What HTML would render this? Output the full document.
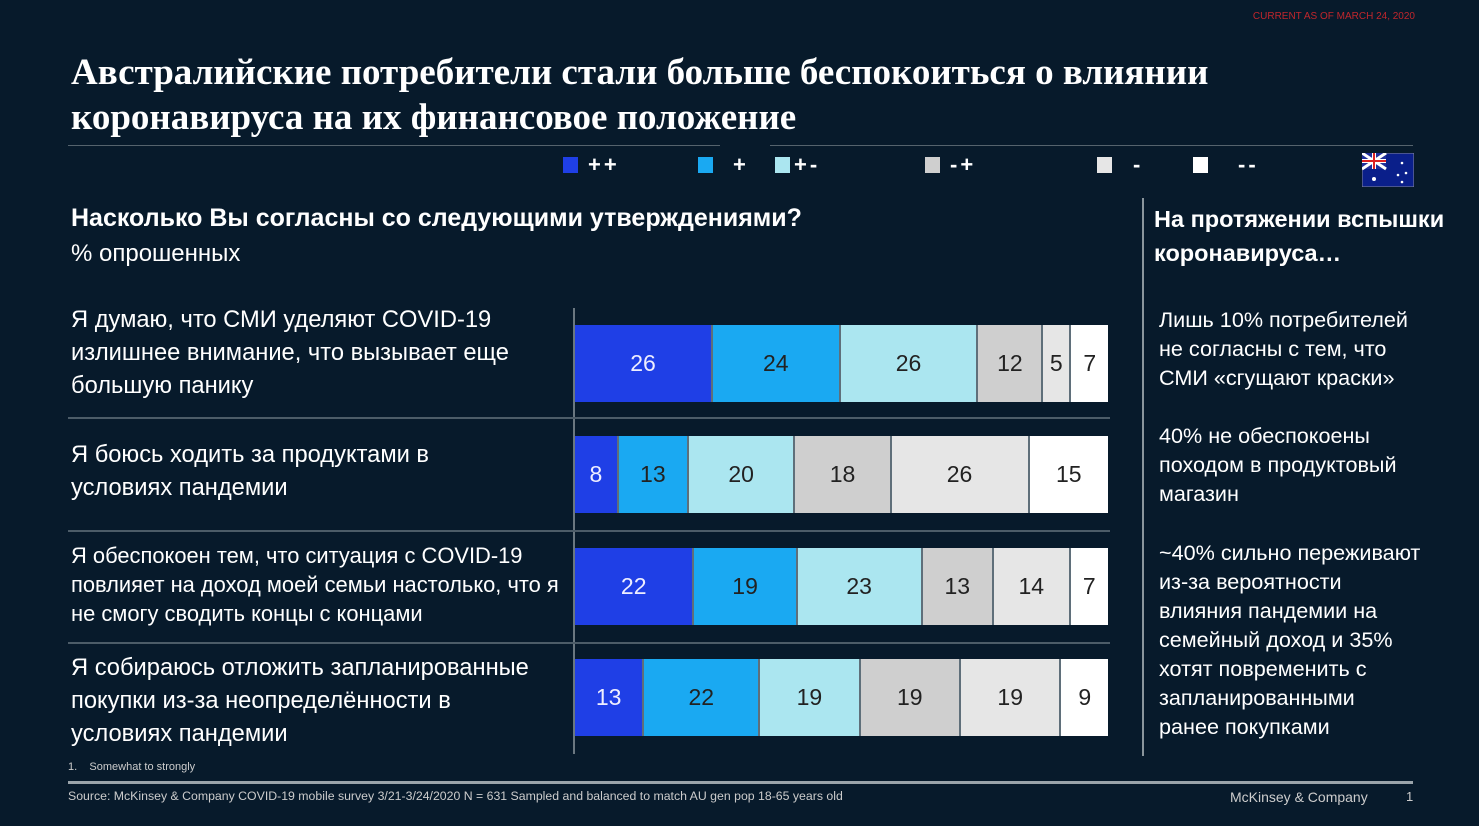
<!DOCTYPE html>
<html><head><meta charset="utf-8"><style>
body{margin:0;width:1479px;height:826px;background:#071a2b;position:relative;overflow:hidden;font-family:"Liberation Sans","DejaVu Sans",sans-serif;color:#fff}
.a{position:absolute;white-space:nowrap}
h1{position:absolute;left:71px;top:50px;margin:0;font-family:"Liberation Serif",serif;font-weight:bold;font-size:37px;line-height:45px;color:#fff;white-space:nowrap}
.bar{position:absolute;left:575px;width:533px;height:77px;display:flex}
.bar div{display:flex;align-items:center;justify-content:center;font-size:23px;color:#222;box-sizing:border-box;border-right:2px solid #5f6f7a}
.c1{background:#1f3fe6;color:#eef!important}.c2{background:#1aa9f2}.c3{background:#abe6f0}.c4{background:#cfcfcf}.c5{background:#e6e6e6}.c6{background:#fff}
.q{position:absolute;left:71px;font-size:23.7px;line-height:33px;color:#fff;white-space:nowrap}
.sep{position:absolute;left:68px;width:1042px;height:2px;background:#4c5c68}
.r{position:absolute;left:1159px;font-size:21.6px;line-height:29px;white-space:nowrap}
.lg{position:absolute;top:157px;width:15px;height:16px}
.lt{position:absolute;top:152px;font-size:22px;font-weight:bold;letter-spacing:3px}
</style></head><body>
<div class="a" style="right:64px;top:11px;font-size:10px;color:#c0262c">CURRENT AS OF MARCH 24, 2020</div>
<h1>Австралийские потребители стали больше беспокоиться о влиянии<br>коронавируса на их финансовое положение</h1>
<div class="a" style="left:68px;top:145px;width:652px;height:1px;background:#55636d"></div>
<div class="a" style="left:770px;top:145px;width:643px;height:1px;background:#55636d"></div>
<div class="lg c1" style="left:563px"></div><div class="lt" style="left:588px">++</div>
<div class="lg c2" style="left:698px"></div><div class="lt" style="left:733px">+</div>
<div class="lg c3" style="left:775px"></div><div class="lt" style="left:794px">+-</div>
<div class="lg c4" style="left:925px"></div><div class="lt" style="left:950px">-+</div>
<div class="lg c5" style="left:1097px"></div><div class="lt" style="left:1133px">-</div>
<div class="lg c6" style="left:1193px"></div><div class="lt" style="left:1238px">--</div>
<svg class="a" style="left:1362px;top:153px" width="52" height="34"><rect width="52" height="34" fill="#0a1f8a" stroke="#889" /><rect width="24" height="16" fill="#1f2f9a"/><path d="M0 0L24 16M24 0L0 16" stroke="#fff" stroke-width="3"/><path d="M12 0V16M0 8H24" stroke="#fff" stroke-width="4"/><path d="M12 0V16M0 8H24" stroke="#d22" stroke-width="2"/><circle cx="12" cy="26" r="2" fill="#fff"/><circle cx="40" cy="10" r="1.3" fill="#fff"/><circle cx="44" cy="20" r="1.3" fill="#fff"/><circle cx="36" cy="22" r="1.3" fill="#fff"/><circle cx="40" cy="29" r="1.3" fill="#fff"/></svg>
<div class="a" style="left:71px;top:204px;font-size:25px;font-weight:bold">Насколько Вы согласны со следующими утверждениями?</div>
<div class="a" style="left:71px;top:240px;font-size:24px">% опрошенных</div>
<div class="a" style="left:1142px;top:198px;width:2px;height:558px;background:#8a959c"></div>
<div class="a" style="left:1154px;top:202px;font-size:23.5px;font-weight:bold;line-height:34px">На протяжении вспышки<br>коронавируса…</div>
<div class="r" style="top:305px">Лишь 10% потребителей<br>не согласны с тем, что<br>СМИ «сгущают краски»</div>
<div class="r" style="top:421px">40% не обеспокоены<br>походом в продуктовый<br>магазин</div>
<div class="r" style="top:538px">~40% сильно переживают<br>из-за вероятности<br>влияния пандемии на<br>семейный доход и 35%<br>хотят повременить с<br>запланированными<br>ранее покупками</div>
<div class="a" style="left:573px;top:308px;width:2px;height:446px;background:#6a7780"></div>
<div class="sep" style="top:417px"></div><div class="sep" style="top:530px"></div><div class="sep" style="top:642px"></div>
<div class="q" style="top:304px">Я думаю, что СМИ уделяют COVID-19<br>излишнее внимание, что вызывает еще<br>большую панику</div>
<div class="q" style="top:439px">Я боюсь ходить за продуктами в<br>условиях пандемии</div>
<div class="q" style="top:541px;font-size:21.9px;line-height:29px">Я обеспокоен тем, что ситуация с COVID-19<br>повлияет на доход моей семьи настолько, что я<br>не смогу сводить концы с концами</div>
<div class="q" style="top:652px">Я собираюсь отложить запланированные<br>покупки из-за неопределённости в<br>условиях пандемии</div>
<div class="bar" style="top:325px"><div class="c1" style="flex:26">26</div><div class="c2" style="flex:24">24</div><div class="c3" style="flex:26">26</div><div class="c4" style="flex:12">12</div><div class="c5" style="flex:5">5</div><div class="c6" style="flex:7;border:0">7</div></div>
<div class="bar" style="top:436px"><div class="c1" style="flex:8">8</div><div class="c2" style="flex:13">13</div><div class="c3" style="flex:20">20</div><div class="c4" style="flex:18">18</div><div class="c5" style="flex:26">26</div><div class="c6" style="flex:15;border:0">15</div></div>
<div class="bar" style="top:548px"><div class="c1" style="flex:22">22</div><div class="c2" style="flex:19">19</div><div class="c3" style="flex:23">23</div><div class="c4" style="flex:13">13</div><div class="c5" style="flex:14">14</div><div class="c6" style="flex:7;border:0">7</div></div>
<div class="bar" style="top:659px"><div class="c1" style="flex:13">13</div><div class="c2" style="flex:22">22</div><div class="c3" style="flex:19">19</div><div class="c4" style="flex:19">19</div><div class="c5" style="flex:19">19</div><div class="c6" style="flex:9;border:0">9</div></div>
<div class="a" style="left:68px;top:761px;font-size:11px;color:#ccc">1.&nbsp;&nbsp;&nbsp;&nbsp;Somewhat to strongly</div>
<div class="a" style="left:68px;top:781px;width:1345px;height:3px;background:#9aa4aa"></div>
<div class="a" style="left:68px;top:789px;font-size:12.3px;color:#ccc">Source: McKinsey &amp; Company COVID-19 mobile survey 3/21-3/24/2020 N = 631 Sampled and balanced to match AU gen pop 18-65 years old</div>
<div class="a" style="left:1230px;top:789px;font-size:14px;color:#ccc">McKinsey &amp; Company</div>
<div class="a" style="left:1406px;top:789px;font-size:13px;color:#ccc">1</div>
</body></html>
